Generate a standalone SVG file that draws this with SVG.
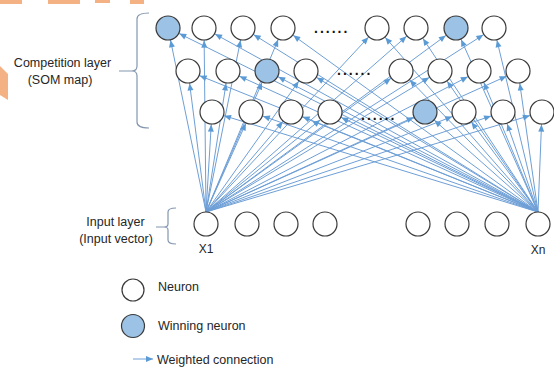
<svg xmlns="http://www.w3.org/2000/svg" width="554" height="367" viewBox="0 0 554 367">
<style>
.n{fill:#ffffff;stroke:#3a3a3a;stroke-width:1.2}
.w{fill:#9cc2e5;stroke:#3a3a3a;stroke-width:1.2}
.c{stroke:#6e9fd6;stroke-width:1;fill:none;marker-end:url(#ah)}
.t{font-family:"Liberation Sans",Arial,sans-serif;font-size:12.5px;fill:#262626}
.dots{font-family:"Liberation Sans",Arial,sans-serif;font-size:14px;font-weight:bold;fill:#111;letter-spacing:2px}
.br{fill:none;stroke:#8497b0;stroke-width:1.2}
</style>
<defs>
<marker id="ah" markerUnits="userSpaceOnUse" markerWidth="22" markerHeight="7" refX="19.6" refY="3" orient="auto" overflow="visible">
<path d="M0,0 L7,3 L0,6 z" fill="#5b9bd5"/>
</marker>
<marker id="ahl" markerUnits="userSpaceOnUse" markerWidth="8" markerHeight="7" refX="7" refY="3" orient="auto" overflow="visible">
<path d="M0,0 L7,3 L0,6 z" fill="#5b9bd5"/>
</marker>
</defs>
<rect width="554" height="367" fill="#ffffff"/>
<g id="decor" fill="#f4b183">
<rect x="0" y="0" width="22" height="4"/>
<rect x="48" y="0" width="32" height="4"/>
<rect x="95" y="0" width="15" height="3"/>
<rect x="130" y="0" width="14" height="4"/>
<polygon points="0,66 8,74 8,100 0,95"/>
</g>
<g id="connectors">
<path class="c" d="M206,212 L168,28"/><path class="c" d="M538,212 L168,28"/>
<path class="c" d="M206,212 L204,28"/><path class="c" d="M538,212 L204,28"/>
<path class="c" d="M206,212 L243,28"/><path class="c" d="M538,212 L243,28"/>
<path class="c" d="M206,212 L283,28"/><path class="c" d="M538,212 L283,28"/>
<path class="c" d="M206,212 L377,28"/><path class="c" d="M538,212 L377,28"/>
<path class="c" d="M206,212 L416,28"/><path class="c" d="M538,212 L416,28"/>
<path class="c" d="M206,212 L456,28"/><path class="c" d="M538,212 L456,28"/>
<path class="c" d="M206,212 L494,28"/><path class="c" d="M538,212 L494,28"/>
<path class="c" d="M206,212 L188,71"/><path class="c" d="M538,212 L188,71"/>
<path class="c" d="M206,212 L228,71"/><path class="c" d="M538,212 L228,71"/>
<path class="c" d="M206,212 L267,71"/><path class="c" d="M538,212 L267,71"/>
<path class="c" d="M206,212 L306,71"/><path class="c" d="M538,212 L306,71"/>
<path class="c" d="M206,212 L401,71"/><path class="c" d="M538,212 L401,71"/>
<path class="c" d="M206,212 L440,71"/><path class="c" d="M538,212 L440,71"/>
<path class="c" d="M206,212 L479,71"/><path class="c" d="M538,212 L479,71"/>
<path class="c" d="M206,212 L518,71"/><path class="c" d="M538,212 L518,71"/>
<path class="c" d="M206,212 L212,112"/><path class="c" d="M538,212 L212,112"/>
<path class="c" d="M206,212 L251,112"/><path class="c" d="M538,212 L251,112"/>
<path class="c" d="M206,212 L291,112"/><path class="c" d="M538,212 L291,112"/>
<path class="c" d="M206,212 L330,112"/><path class="c" d="M538,212 L330,112"/>
<path class="c" d="M206,212 L425,112"/><path class="c" d="M538,212 L425,112"/>
<path class="c" d="M206,212 L464,112"/><path class="c" d="M538,212 L464,112"/>
<path class="c" d="M206,212 L503,112"/><path class="c" d="M538,212 L503,112"/>
<path class="c" d="M206,212 L542,112"/><path class="c" d="M538,212 L542,112"/>
</g>
<g id="competition-layer">
<g id="c1-1"><circle class="w" cx="168" cy="28" r="12"/></g>
<g id="c1-2"><circle class="n" cx="204" cy="28" r="12"/></g>
<g id="c1-3"><circle class="n" cx="243" cy="28" r="12"/></g>
<g id="c1-4"><circle class="n" cx="283" cy="28" r="12"/></g>
<g id="c1-5"><circle class="n" cx="377" cy="28" r="12"/></g>
<g id="c1-6"><circle class="n" cx="416" cy="28" r="12"/></g>
<g id="c1-7"><circle class="w" cx="456" cy="28" r="12"/></g>
<g id="c1-8"><circle class="n" cx="494" cy="28" r="12"/></g>
<g id="c2-1"><circle class="n" cx="188" cy="71" r="12"/></g>
<g id="c2-2"><circle class="n" cx="228" cy="71" r="12"/></g>
<g id="c2-3"><circle class="w" cx="267" cy="71" r="12"/></g>
<g id="c2-4"><circle class="n" cx="306" cy="71" r="12"/></g>
<g id="c2-5"><circle class="n" cx="401" cy="71" r="12"/></g>
<g id="c2-6"><circle class="n" cx="440" cy="71" r="12"/></g>
<g id="c2-7"><circle class="n" cx="479" cy="71" r="12"/></g>
<g id="c2-8"><circle class="n" cx="518" cy="71" r="12"/></g>
<g id="c3-1"><circle class="n" cx="212" cy="112" r="12"/></g>
<g id="c3-2"><circle class="n" cx="251" cy="112" r="12"/></g>
<g id="c3-3"><circle class="n" cx="291" cy="112" r="12"/></g>
<g id="c3-4"><circle class="n" cx="330" cy="112" r="12"/></g>
<g id="c3-5"><circle class="w" cx="425" cy="112" r="12"/></g>
<g id="c3-6"><circle class="n" cx="464" cy="112" r="12"/></g>
<g id="c3-7"><circle class="n" cx="503" cy="112" r="12"/></g>
<g id="c3-8"><circle class="n" cx="542" cy="112" r="12"/></g>
<text class="dots" x="314" y="33">......</text>
<text class="dots" x="337" y="75">......</text>
<text class="dots" x="361" y="120">......</text>
</g>
<g id="input-layer">
<g id="x1"><circle class="n" cx="206" cy="224" r="12"/><text class="t" x="206" y="253" text-anchor="middle" style="font-size:12px">X1</text></g>
<g id="x2"><circle class="n" cx="247" cy="224" r="12"/></g>
<g id="x3"><circle class="n" cx="286" cy="224" r="12"/></g>
<g id="x4"><circle class="n" cx="325" cy="224" r="12"/></g>
<g id="x5"><circle class="n" cx="418" cy="224" r="12"/></g>
<g id="x6"><circle class="n" cx="457" cy="224" r="12"/></g>
<g id="x7"><circle class="n" cx="497" cy="224" r="12"/></g>
<g id="xn"><circle class="n" cx="538" cy="224" r="12"/><text class="t" x="538" y="254" text-anchor="middle" style="font-size:12px">Xn</text></g>
</g>
<g id="label-competition">
<path class="br" d="M149,13 Q137,13 137,19 V66 Q137,71 132,71 Q137,71 137,76 V122 Q137,128 149,128 M119,71 H132"/>
<text class="t" x="62.5" y="67" text-anchor="middle">Competition layer</text>
<text class="t" x="60" y="84" text-anchor="middle">(SOM map)</text>
</g>
<g id="label-input">
<path class="br" d="M176,208 Q168,208 168,212 V224 Q168,227 164,227 Q168,227 168,230 V240 Q168,244 176,244 M156,227 H164"/>
<text class="t" x="115.5" y="226" text-anchor="middle">Input layer</text>
<text class="t" x="116" y="243" text-anchor="middle">(Input vector)</text>
</g>
<g id="legend">
<g id="legend-neuron"><circle class="n" cx="133" cy="290" r="11"/><text class="t" x="158" y="291">Neuron</text></g>
<g id="legend-winning"><circle class="w" cx="133" cy="326" r="11.5"/><text class="t" x="158" y="330">Winning neuron</text></g>
<g id="legend-connection"><path d="M133,359 L153,359" stroke="#6e9fd6" stroke-width="1" fill="none" marker-end="url(#ahl)"/><text class="t" x="157" y="364">Weighted connection</text></g>
</g>
</svg>
